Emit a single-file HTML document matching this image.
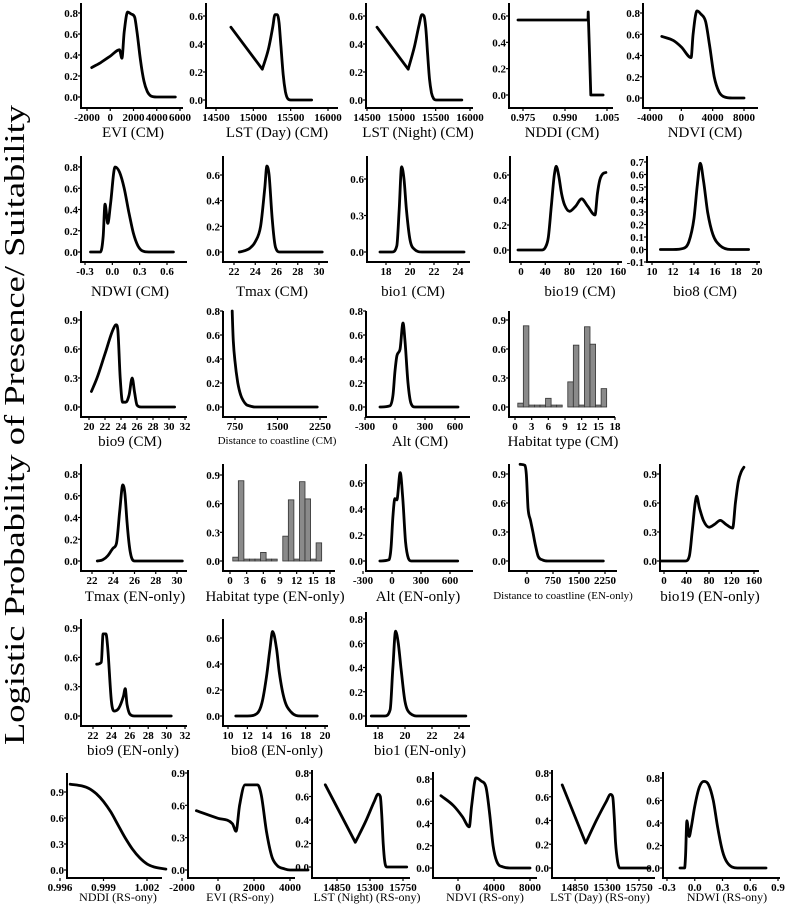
<!DOCTYPE html>
<html><head><meta charset="utf-8">
<style>
html,body{margin:0;padding:0;background:#fff;}
svg{display:block;font-family:"Liberation Serif",serif;}
text{font-family:"Liberation Serif",serif;}
.tk{font-size:11px;font-weight:bold;fill:#000;}
</style></head>
<body>
<svg id="fig" width="787" height="909" viewBox="0 0 787 909" xmlns="http://www.w3.org/2000/svg">
<text font-family="Liberation Serif, serif" transform="translate(24,425) rotate(-90)" text-anchor="middle" font-size="29" textLength="640" lengthAdjust="spacingAndGlyphs">Logistic Probability of Presence/ Suitability</text>
</svg>
<script>
// ---- data arrays ----
const evi_cm_x=[-1600,-800,0,800,1000,1200,1500,1800,2100,2300,2600,2900,3200,3500,4000,5600];
const evi_cm_y=[0.28,0.33,0.39,0.45,0.37,0.62,0.81,0.79,0.76,0.62,0.35,0.15,0.05,0.01,0,0];
const lstd_cm_x=[14700,15120,15200,15260,15290,15320,15345,15370,15400,15430,15460,15500,15780];
const lstd_cm_y=[0.52,0.22,0.36,0.52,0.61,0.61,0.55,0.38,0.18,0.06,0.01,0,0];
const lstn_cm_x=[14645,15100,15190,15260,15300,15330,15355,15380,15410,15440,15470,15510,15880];
const lstn_cm_y=[0.52,0.22,0.38,0.54,0.61,0.6,0.52,0.35,0.15,0.05,0.01,0,0];
const nddi_cm_x=[0.9732,0.9982,0.9983,0.9988,0.9992,1.0036];
const nddi_cm_y=[0.57,0.57,0.63,0.3,0,0];
const ndvi_cm_x=[-2500,-1000,0,1250,1500,2000,2500,3100,3600,4200,4800,5500,6500,8000];
const ndvi_cm_y=[0.58,0.54,0.48,0.38,0.6,0.82,0.79,0.72,0.5,0.2,0.06,0.01,0,0];
const ndwi_cm_x=[-0.24,-0.13,-0.1,-0.08,-0.05,-0.02,0.03,0.08,0.13,0.18,0.23,0.28,0.33,0.4,0.67];
const ndwi_cm_y=[0,0,0.15,0.45,0.27,0.45,0.8,0.75,0.6,0.38,0.18,0.06,0.01,0,0];
const tmax_cm_x=[22.5,23,23.5,24,24.5,24.9,25.1,25.3,25.6,25.9,26.3,30.3];
const tmax_cm_y=[0,0.01,0.03,0.08,0.2,0.5,0.67,0.6,0.25,0.04,0,0];
const bio1_cm_x=[17.5,18.5,18.9,19.1,19.3,19.5,19.7,20,20.4,21,24.5];
const bio1_cm_y=[0,0,0.05,0.35,0.7,0.6,0.35,0.1,0.02,0,0];
const bio19_cm_x=[-5,35,40,45,50,55,58,62,67,72,80,90,100,110,122,126,130,135,140];
const bio19_cm_y=[0,0,0.02,0.1,0.35,0.6,0.67,0.6,0.45,0.36,0.31,0.35,0.41,0.35,0.28,0.45,0.56,0.61,0.62];
const bio8_cm_x=[10.8,12,13,13.5,14,14.3,14.6,14.9,15.3,15.8,16.5,17.5,19.2];
const bio8_cm_y=[0,0,0.01,0.06,0.25,0.5,0.69,0.55,0.3,0.12,0.03,0,0];
const bio9_cm_x=[20.3,21,22,23,23.4,23.6,23.9,24.2,24.6,25,25.4,25.7,26,26.5,30.7];
const bio9_cm_y=[0.16,0.3,0.55,0.8,0.85,0.8,0.3,0.05,0.05,0.12,0.3,0.15,0.02,0,0];
const dist_cm_x=[700,720,750,800,850,900,950,1000,1100,2200];
const dist_cm_y=[0.8,0.55,0.38,0.2,0.1,0.05,0.02,0.01,0,0];
const alt_cm_x=[-150,-50,-20,0,20,50,80,100,130,160,200,630];
const alt_cm_y=[0,0.01,0.1,0.3,0.43,0.48,0.7,0.55,0.2,0.03,0,0];
const habitat_cats=[1,2,3,4,5,6,7,8,10,11,12,13,14,15,16];
const habitat_cm_vals=[0.04,0.84,0.02,0.02,0.02,0.09,0.02,0.02,0.26,0.64,0.02,0.83,0.65,0.02,0.19];
const habitat_en_vals=[0.04,0.84,0.02,0.02,0.02,0.09,0.02,0.02,0.26,0.64,0.02,0.83,0.65,0.02,0.19];
const tmax_en_x=[22.5,23,23.5,24,24.3,24.6,24.9,25.1,25.3,25.6,26,30.5];
const tmax_en_y=[0,0.01,0.05,0.12,0.16,0.45,0.7,0.62,0.35,0.08,0,0];
const alt_en_x=[-125,-30,-10,10,30,50,85,110,140,170,200,680];
const alt_en_y=[0,0.01,0.1,0.35,0.48,0.47,0.68,0.5,0.15,0.02,0,0];
const dist_en_x=[-200,-60,-20,30,100,170,250,320,450,600,2200];
const dist_en_y=[1,0.99,0.9,0.55,0.42,0.3,0.15,0.05,0.01,0,0];
const bio19_en_x=[-5,38,45,50,55,58,63,70,80,90,100,110,122,127,132,137,142];
const bio19_en_y=[0,0,0.05,0.3,0.58,0.67,0.55,0.42,0.35,0.38,0.42,0.38,0.34,0.6,0.82,0.92,0.97];
const bio9_en_x=[22.4,22.9,23.1,23.4,23.6,24,24.3,24.8,25.3,25.5,25.7,26,26.5,30.5];
const bio9_en_y=[0.53,0.55,0.84,0.84,0.7,0.15,0.05,0.08,0.2,0.28,0.12,0.02,0,0];
const bio8_en_x=[10.8,12,13,13.5,14,14.3,14.6,15,15.3,15.8,16.5,17.5,19.2];
const bio8_en_y=[0,0,0.02,0.1,0.32,0.5,0.65,0.52,0.33,0.13,0.03,0,0];
const bio1_en_x=[17.5,18.5,18.9,19.1,19.3,19.5,19.7,20,20.4,21,24.5];
const bio1_en_y=[0,0,0.05,0.4,0.7,0.6,0.4,0.12,0.02,0,0];
const nddi_rs_x=[0.9967,0.9975,0.998,0.9985,0.999,0.9995,1.0,1.0005,1.001,1.0015,1.002,1.0025,1.0033];
const nddi_rs_y=[0.99,0.97,0.94,0.88,0.79,0.67,0.52,0.37,0.24,0.14,0.07,0.035,0.01];
const evi_rs_x=[-1200,0,800,1000,1200,1500,2200,2400,2700,3000,3300,3700,4000,5000];
const evi_rs_y=[0.55,0.48,0.43,0.36,0.6,0.79,0.79,0.7,0.35,0.12,0.04,0.01,0,0];
const lstn_rs_x=[14690,15100,15250,15360,15410,15440,15460,15480,15500,15530,15800];
const lstn_rs_y=[0.7,0.21,0.4,0.56,0.62,0.6,0.45,0.2,0.05,0,0];
const ndvi_rs_x=[-1900,-500,500,1250,1500,2000,2600,3100,3500,3900,4300,5000,6000,8000];
const ndvi_rs_y=[0.65,0.56,0.46,0.37,0.55,0.81,0.78,0.73,0.5,0.2,0.06,0.01,0,0];
const lstd_rs_x=[14670,15000,15150,15290,15350,15380,15400,15420,15450,15480,15900];
const lstd_rs_y=[0.7,0.21,0.4,0.56,0.62,0.6,0.45,0.22,0.05,0,0];
const ndwi_rs_x=[-0.16,-0.11,-0.1,-0.085,-0.06,-0.04,0.0,0.05,0.1,0.15,0.2,0.25,0.3,0.35,0.46,0.77];
const ndwi_rs_y=[0,0,0.1,0.42,0.28,0.35,0.55,0.72,0.77,0.74,0.6,0.35,0.15,0.05,0,0];
// tick label arrays
const yt02_8=[0,0.2,0.4,0.6,0.8], yt02_6=[0,0.2,0.4,0.6], yt03_9=[0,0.3,0.6,0.9], yt03_6=[0,0.3,0.6];
const yt01_7=[-0.1,0,0.1,0.2,0.3,0.4,0.5,0.6,0.7];
const xt_evi=[-2000,0,2000,4000,6000], xt_lst=[14500,15000,15500,16000], xt_nddi=[0.975,0.990,1.005];
const xt_ndvi=[-4000,0,4000,8000], xt_ndwi=[-0.3,0,0.3,0.6], xt_tmax=[22,24,26,28,30], xt_bio1=[18,20,22,24];
const xt_bio19=[0,40,80,120,160], xt_bio8=[10,12,14,16,18,20], xt_bio9=[20,22,24,26,28,30,32];
const xt_dist=[750,1500,2250], xt_alt=[-300,0,300,600], xt_hab=[0,3,6,9,12,15,18];
const xt_dist_en=[0,750,1500,2250], xt_bio9_en=[22,24,26,28,30,32];
const xt_nddi_rs=[0.996,0.999,1.002], xt_evi_rs=[-2000,0,2000,4000], xt_lst_rs=[14850,15300,15750];
const xt_ndvi_rs=[0,4000,8000], xt_ndwi_rs=[-0.3,0,0.3,0.6,0.9];

// ---- layout (pixel geometry) ----
const panels=[
{id:'evi-cm',t:'EVI (CM)',tx:133,ty:132,ax:81,top:3,bot:108,r:183,xt:xt_evi,xp:[87,180],yt:yt02_8,yp:[97,13],x:evi_cm_x,y:evi_cm_y},
{id:'lst-day-cm',t:'LST (Day) (CM)',tx:277,ty:132,ax:206,top:3,bot:108,r:338,xt:xt_lst,xp:[216,328],yt:yt02_6,yp:[100,16],x:lstd_cm_x,y:lstd_cm_y,vee:1},
{id:'lst-night-cm',t:'LST (Night) (CM)',tx:418,ty:132,ax:366,top:3,bot:108,r:473,xt:xt_lst,xp:[367,470],yt:yt02_6,yp:[100,16],x:lstn_cm_x,y:lstn_cm_y,vee:1},
{id:'nddi-cm',t:'NDDI (CM)',tx:562,ty:132,ax:509,top:3,bot:108,r:613,xt:xt_nddi,xp:[523,607],yt:yt02_6,yp:[95,16],x:nddi_cm_x,y:nddi_cm_y,fmt:3,lin:1},
{id:'ndvi-cm',t:'NDVI (CM)',tx:705,ty:132,ax:643,top:3,bot:108,r:758,xt:xt_ndvi,xp:[650,744],yt:yt02_8,yp:[98,13],x:ndvi_cm_x,y:ndvi_cm_y},
{id:'ndwi-cm',t:'NDWI (CM)',tx:130,ty:291,ax:81,top:156,bot:262,r:187,xt:xt_ndwi,xp:[85,167],yt:yt02_8,yp:[252,167],x:ndwi_cm_x,y:ndwi_cm_y,fmt:1},
{id:'tmax-cm',t:'Tmax (CM)',tx:272,ty:291,ax:223,top:156,bot:262,r:328,xt:xt_tmax,xp:[234,319],yt:yt02_6,yp:[252,175],x:tmax_cm_x,y:tmax_cm_y},
{id:'bio1-cm',t:'bio1 (CM)',tx:413,ty:291,ax:367,top:156,bot:262,r:470,xt:xt_bio1,xp:[386,458],yt:yt03_6,yp:[252,179],x:bio1_cm_x,y:bio1_cm_y},
{id:'bio19-cm',t:'bio19 (CM)',tx:580,ty:291,ax:510,top:156,bot:262,r:622,xt:xt_bio19,xp:[521,618],yt:yt02_6,yp:[250,175],x:bio19_cm_x,y:bio19_cm_y},
{id:'bio8-cm',t:'bio8 (CM)',tx:705,ty:291,ax:647,top:156,bot:262,r:760,xt:xt_bio8,xp:[652,757],yt:yt01_7,yp:[262,162],x:bio8_cm_x,y:bio8_cm_y},
{id:'bio9-cm',t:'bio9 (CM)',tx:130,ty:441,ax:81,top:311,bot:417,r:187,xt:xt_bio9,xp:[89,185],yt:yt03_9,yp:[407,320],x:bio9_cm_x,y:bio9_cm_y},
{id:'distance-cm',t:'Distance to coastline (CM)',ts:11,tx:277,ty:439,ax:223,top:311,bot:417,r:327,xt:xt_dist,xp:[235,320],yt:yt02_8,yp:[407,311],x:dist_cm_x,y:dist_cm_y},
{id:'alt-cm',t:'Alt (CM)',tx:420,ty:441,ax:366,top:311,bot:417,r:470,xt:xt_alt,xp:[365,455],yt:yt02_8,yp:[407,311],x:alt_cm_x,y:alt_cm_y},
{id:'habitat-cm',t:'Habitat type (CM)',tx:563,ty:441,ax:509,top:311,bot:417,r:615,xt:xt_hab,xp:[515,615],yt:yt03_9,yp:[407,320],bars:habitat_cm_vals},
{id:'tmax-en',t:'Tmax (EN-only)',tx:135,ty:596,ax:81,top:464,bot:571,r:187,xt:xt_tmax,xp:[92,177],yt:yt02_8,yp:[561,474],x:tmax_en_x,y:tmax_en_y},
{id:'habitat-en',t:'Habitat type (EN-only)',tx:275,ty:596,ax:223,top:464,bot:571,r:335,xt:xt_hab,xp:[230,330],yt:yt03_9,yp:[561,475],bars:habitat_en_vals},
{id:'alt-en',t:'Alt (EN-only)',tx:418,ty:596,ax:366,top:464,bot:571,r:473,xt:xt_alt,xp:[363,450],yt:yt02_6,yp:[561,483],x:alt_en_x,y:alt_en_y},
{id:'distance-en',t:'Distance to coastline (EN-only)',ts:11,tx:563,ty:594,ax:509,top:464,bot:571,r:617,xt:xt_dist_en,xp:[527,605],yt:yt03_9,yp:[561,474],x:dist_en_x,y:dist_en_y},
{id:'bio19-en',t:'bio19 (EN-only)',tx:710,ty:596,ax:660,top:464,bot:571,r:759,xt:xt_bio19,xp:[664,754],yt:yt03_9,yp:[561,474],x:bio19_en_x,y:bio19_en_y},
{id:'bio9-en',t:'bio9 (EN-only)',tx:133,ty:750,ax:81,top:619,bot:726,r:187,xt:xt_bio9_en,xp:[93,185],yt:yt03_9,yp:[716,628],x:bio9_en_x,y:bio9_en_y},
{id:'bio8-en',t:'bio8 (EN-only)',tx:277,ty:750,ax:223,top:619,bot:726,r:328,xt:xt_bio8,xp:[228,325],yt:yt02_6,yp:[716,638],x:bio8_en_x,y:bio8_en_y},
{id:'bio1-en',t:'bio1 (EN-only)',tx:420,ty:750,ax:366,top:612,bot:726,r:470,xt:xt_bio1,xp:[378,459],yt:yt02_8,yp:[716,619],x:bio1_en_x,y:bio1_en_y},
{id:'nddi-rs',t:'NDDI  (RS-ony)',ts:12,tx:118,ty:896,ax:67,top:773,bot:878,r:162,xt:xt_nddi_rs,xp:[60,147],yt:yt03_9,yp:[870,792],x:nddi_rs_x,y:nddi_rs_y,fmt:3},
{id:'evi-rs',t:'EVI  (RS-ony)',ts:12,tx:240,ty:896,ax:188,top:770,bot:878,r:295,xt:xt_evi_rs,xp:[182,290],yt:yt03_9,yp:[870,773],x:evi_rs_x,y:evi_rs_y},
{id:'lst-night-rs',t:'LST (Night)  (RS-ony)',ts:12,tx:367,ty:896,ax:312,top:770,bot:878,r:410,xt:xt_lst_rs,xp:[337,403],yt:yt02_8,yp:[867,773],x:lstn_rs_x,y:lstn_rs_y,vee:1},
{id:'ndvi-rs',t:'NDVI  (RS-ony)',ts:12,tx:485,ty:896,ax:433,top:772,bot:878,r:537,xt:xt_ndvi_rs,xp:[458,530],yt:yt02_8,yp:[868,779],x:ndvi_rs_x,y:ndvi_rs_y},
{id:'lst-day-rs',t:'LST (Day)  (RS-ony)',ts:12,tx:600,ty:896,ax:552,top:770,bot:878,r:655,xt:xt_lst_rs,xp:[575,639],yt:yt02_8,yp:[868,773],x:lstd_rs_x,y:lstd_rs_y,vee:1},
{id:'ndwi-rs',t:'NDWI (RS-ony)',ts:12,tx:727,ty:896,ax:663,top:772,bot:878,r:780,xt:xt_ndwi_rs,xp:[667,778],yt:yt02_8,yp:[868,778],x:ndwi_rs_x,y:ndwi_rs_y,fmt:1}
];
const NS='http://www.w3.org/2000/svg';
const fig=document.getElementById('fig');
function mk(tag,attrs,parent){const e=document.createElementNS(NS,tag);for(const k in attrs)e.setAttribute(k,attrs[k]);parent.appendChild(e);return e;}
function fmtY(v){return v.toFixed(1);}
function linPath(P){return P.map((q,i)=>(i?'L':'M')+q[0].toFixed(1)+','+q[1].toFixed(1)).join(' ');}
// monotone cubic path through pixel points
function monoPath(P){
  const n=P.length; if(n<3) return linPath(P);
  const d=[],m=[];
  for(let i=0;i<n-1;i++){const dx=P[i+1][0]-P[i][0];d.push(dx?(P[i+1][1]-P[i][1])/dx:0);}
  m[0]=d[0];m[n-1]=d[n-2];
  for(let i=1;i<n-1;i++){m[i]=(d[i-1]*d[i]<=0)?0:(d[i-1]+d[i])/2;}
  for(let i=0;i<n-1;i++){
    if(d[i]===0){m[i]=0;m[i+1]=0;continue;}
    const a=m[i]/d[i],b=m[i+1]/d[i],s=a*a+b*b;
    if(s>9){const t=3/Math.sqrt(s);m[i]=t*a*d[i];m[i+1]=t*b*d[i];}
  }
  let s='M'+P[0][0].toFixed(1)+','+P[0][1].toFixed(1);
  for(let i=0;i<n-1;i++){
    const h=(P[i+1][0]-P[i][0])/3;
    s+=' C'+(P[i][0]+h).toFixed(1)+','+(P[i][1]+m[i]*h).toFixed(1)+' '+(P[i+1][0]-h).toFixed(1)+','+(P[i+1][1]-m[i+1]*h).toFixed(1)+' '+P[i+1][0].toFixed(1)+','+P[i+1][1].toFixed(1);
  }
  return s;
}
panels.forEach(p=>{
  const g=mk('g',{},fig);
  
  
  const x0=p.xt[0],x1=p.xt[p.xt.length-1];
  const sx=v=>p.xp[0]+(v-x0)/(x1-x0)*(p.xp[1]-p.xp[0]);
  const y0=p.yt[0],y1=p.yt[p.yt.length-1];
  const sy=v=>p.yp[0]+(v-y0)/(y1-y0)*(p.yp[1]-p.yp[0]);
  const ya=mk('line',{x1:p.ax,y1:p.top,x2:p.ax,y2:p.bot,stroke:'#000','stroke-width':2},g);
  
  
  const xa=mk('line',{x1:p.ax-1,y1:p.bot,x2:p.r,y2:p.bot,stroke:'#000','stroke-width':2},g);
  
  
  p.yt.forEach(v=>{
    const y=sy(v);
    mk('line',{x1:p.ax-3,y1:y,x2:p.ax,y2:y,stroke:'#000','stroke-width':1.2},g);
    const t=mk('text',{x:p.ax-3,y:y+4,'text-anchor':'end',class:'tk'},g);
    
    
    t.textContent=fmtY(v);
  });
  p.xt.forEach(v=>{
    const x=sx(v);
    mk('line',{x1:x,y1:p.bot,x2:x,y2:p.bot+3,stroke:'#000','stroke-width':1.2},g);
    const t=mk('text',{x:x,y:p.bot+13,'text-anchor':'middle',class:'tk'},g);
    
    
    t.textContent=p.fmt?v.toFixed(p.fmt):String(v);
  });
  if(p.bars){
    habitat_cats.forEach((c,i)=>{
      const v=p.bars[i];
      const xl=sx(c-0.5),xr=sx(c+0.5);
      const b=mk('rect',{x:xl,y:sy(v),width:xr-xl,height:sy(0)-sy(v),fill:'#8a8a8a',stroke:'#333','stroke-width':0.8},g);
      
      
    });
  } else {
    const P=p.x.map((v,i)=>[sx(v),sy(p.y[i])]);
    let d;
    if(p.lin) d=linPath(P);
    else if(p.vee) d=linPath(P.slice(0,2))+' '+monoPath(P.slice(1)).replace(/^M/,'L');
    else d=monoPath(P);
    const ln=mk('path',{d:d,fill:'none',stroke:'#000','stroke-width':2.8,'stroke-linejoin':'round','stroke-linecap':'round'},g);
    
    
  }
  const tt=mk('text',{x:p.tx,y:p.ty+5,'text-anchor':'middle','font-size':p.ts||15,'font-family':'Liberation Serif, serif'},g);
  
  
  tt.textContent=p.t;
});
</script>
</body></html>
